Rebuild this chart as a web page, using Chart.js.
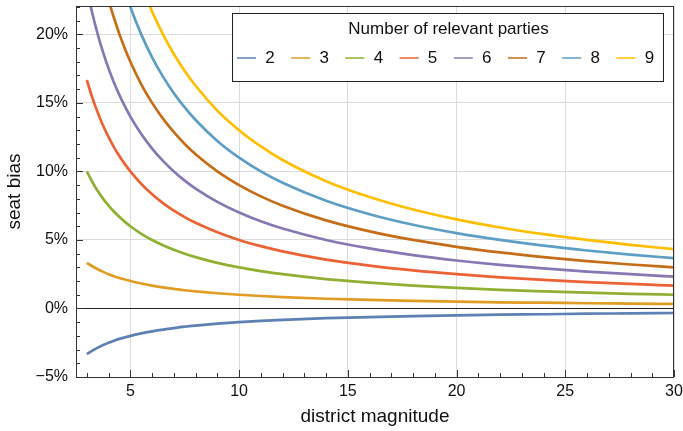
<!DOCTYPE html>
<html>
<head>
<meta charset="utf-8">
<script src="https://cdn.jsdelivr.net/npm/chart.js@4.4.1/dist/chart.umd.min.js"></script>
<style>
  html, body { margin: 0; padding: 0; background: #fff; }
  #wrap { width: 683px; height: 431px; }
</style>
</head>
<body>
<div id="wrap"><canvas id="grafico" width="683" height="431"></canvas></div>
<script>
// district magnitude
const magnitudes = [3, 3.25, 3.5, 3.75, 4, 4.25, 4.5, 4.75, 5, 5.5, 6, 6.5, 7, 7.5, 8, 9, 10, 11, 12, 14, 16, 18, 20, 22, 24, 26, 28, 30];

// seat bias (%) per number of relevant parties
const parties2 = [-3.33, -3.08, -2.86, -2.67, -2.5, -2.35, -2.22, -2.11, -2, -1.82, -1.67, -1.54, -1.43, -1.33, -1.25, -1.11, -1, -0.91, -0.83, -0.71, -0.63, -0.56, -0.5, -0.45, -0.42, -0.38, -0.36, -0.33];
const parties3 = [3.33, 3.08, 2.86, 2.67, 2.5, 2.35, 2.22, 2.11, 2, 1.82, 1.67, 1.54, 1.43, 1.33, 1.25, 1.11, 1, 0.91, 0.83, 0.71, 0.63, 0.56, 0.5, 0.45, 0.42, 0.38, 0.36, 0.33];
const parties4 = [10, 9.23, 8.57, 8, 7.5, 7.06, 6.67, 6.32, 6, 5.45, 5, 4.62, 4.29, 4, 3.75, 3.33, 3, 2.73, 2.5, 2.14, 1.88, 1.67, 1.5, 1.36, 1.25, 1.15, 1.07, 1];
const parties5 = [16.67, 15.38, 14.29, 13.33, 12.5, 11.76, 11.11, 10.53, 10, 9.09, 8.33, 7.69, 7.14, 6.67, 6.25, 5.56, 5, 4.55, 4.17, 3.57, 3.13, 2.78, 2.5, 2.27, 2.08, 1.92, 1.79, 1.67];
const parties6 = [23.33, 21.54, 20, 18.67, 17.5, 16.47, 15.56, 14.74, 14, 12.73, 11.67, 10.77, 10, 9.33, 8.75, 7.78, 7, 6.36, 5.83, 5, 4.38, 3.89, 3.5, 3.18, 2.92, 2.69, 2.5, 2.33];
const parties7 = [30, 27.69, 25.71, 24, 22.5, 21.18, 20, 18.95, 18, 16.36, 15, 13.85, 12.86, 12, 11.25, 10, 9, 8.18, 7.5, 6.43, 5.63, 5, 4.5, 4.09, 3.75, 3.46, 3.21, 3];
const parties8 = [36.67, 33.85, 31.43, 29.33, 27.5, 25.88, 24.44, 23.16, 22, 20, 18.33, 16.92, 15.71, 14.67, 13.75, 12.22, 11, 10, 9.17, 7.86, 6.88, 6.11, 5.5, 5, 4.58, 4.23, 3.93, 3.67];
const parties9 = [43.33, 40, 37.14, 34.67, 32.5, 30.59, 28.89, 27.37, 26, 23.64, 21.67, 20, 18.57, 17.33, 16.25, 14.44, 13, 11.82, 10.83, 9.29, 8.13, 7.22, 6.5, 5.91, 5.42, 5, 4.64, 4.33];

const seriesLabels = ['2', '3', '4', '5', '6', '7', '8', '9'];
const seriesValues = [parties2, parties3, parties4, parties5, parties6, parties7, parties8, parties9];
const colores = ['#5E81B5', '#E19C24', '#8FB032', '#EB6235', '#8778B3', '#C56E1A', '#5D9EC7', '#FFBF00'];

const xTicks = [5, 10, 15, 20, 25, 30];
const yTicks = [-5, 0, 5, 10, 15, 20];
const legendTitle = 'Number of relevant parties';
const xTitle = 'district magnitude';
const yTitle = 'seat bias';

const FUENTE = '"Liberation Sans", Arial, sans-serif';

const datasets = seriesValues.map((vals, i) => ({
    label: seriesLabels[i],
    data: magnitudes.map((m, j) => ({ x: m, y: vals[j] })),
    borderColor: colores[i],
    borderWidth: 2.7,
    pointRadius: 0,
    fill: false,
    cubicInterpolationMode: 'monotone',
}));

// marcas hacia dentro, marco, linea del cero, titulos y leyenda
const marcoPlugin = {
    id: 'marco',
    beforeDatasetsDraw(chart) {
        const { ctx, chartArea: a, scales } = chart;
        const y0 = scales.y.getPixelForValue(0);
        ctx.save();
        ctx.strokeStyle = '#222';
        ctx.lineWidth = 1;
        ctx.beginPath();
        ctx.moveTo(a.left, Math.round(y0) + 0.5);
        ctx.lineTo(a.right, Math.round(y0) + 0.5);
        ctx.stroke();
        ctx.restore();
    },
    afterDraw(chart) {
        const { ctx, chartArea: a, scales } = chart;
        ctx.save();
        ctx.strokeStyle = '#333';
        ctx.lineWidth = 1;
        ctx.strokeRect(a.left + 0.5, a.top + 0.5, a.right - a.left - 1, a.bottom - a.top);

        ctx.beginPath();
        for (let v = 3; v <= 30; v++) {
            const px = Math.round(scales.x.getPixelForValue(v)) + 0.5;
            const len = v % 5 === 0 ? 7 : 4;
            ctx.moveTo(px, a.bottom);
            ctx.lineTo(px, a.bottom - len);
        }
        for (let v = -5; v <= 22; v++) {
            const py = Math.round(scales.y.getPixelForValue(v)) + 0.5;
            const len = v % 5 === 0 ? 7 : 4;
            ctx.moveTo(a.left, py);
            ctx.lineTo(a.left + len, py);
        }
        ctx.stroke();

        // titulos de ejes
        ctx.fillStyle = '#111';
        ctx.font = `19px ${FUENTE}`;
        ctx.textAlign = 'center';
        ctx.textBaseline = 'middle';
        ctx.fillText(xTitle, (a.left + a.right) / 2, 417);
        ctx.save();
        ctx.translate(15, (a.top + a.bottom) / 2);
        ctx.rotate(-Math.PI / 2);
        ctx.fillText(yTitle, 0, 0);
        ctx.restore();

        // leyenda
        const lx = 232, ly = 13, lw = 431, lh = 68;
        ctx.fillStyle = '#fff';
        ctx.fillRect(lx, ly, lw, lh);
        ctx.strokeStyle = '#222';
        ctx.strokeRect(lx + 0.5, ly + 0.5, lw, lh);
        ctx.fillStyle = '#111';
        ctx.font = `17px ${FUENTE}`;
        ctx.fillText(legendTitle, lx + lw / 2 + 1, 29);
        chart.data.datasets.forEach((ds, i) => {
            const x = lx + 5 + i * 54.2;
            ctx.strokeStyle = ds.borderColor;
            ctx.lineWidth = 1.5;
            ctx.beginPath();
            ctx.moveTo(x, 58);
            ctx.lineTo(x + 19, 58);
            ctx.stroke();
            ctx.fillText(ds.label, x + 33, 58);
        });
        ctx.restore();
    },
};

new Chart(document.getElementById('grafico'), {
    type: 'line',
    data: { datasets },
    options: {
        responsive: false,
        animation: false,
        layout: { padding: { top: 6, right: 9, left: 0, bottom: 0 } },
        plugins: {
            legend: { display: false },
            tooltip: { enabled: false },
        },
        scales: {
            x: {
                type: 'linear',
                min: 2.5,
                max: 30,
                afterFit(scale) {
                    scale.height = 54;
                    scale.paddingLeft = 0;
                    scale.paddingRight = 0;
                },
                afterBuildTicks(scale) { scale.ticks = xTicks.map(v => ({ value: v })); },
                grid: { color: '#dcdcdc', drawTicks: false },
                border: { display: false },
                ticks: {
                    padding: 5,
                    color: '#111',
                    font: { family: FUENTE, size: 16 },
                },
            },
            y: {
                type: 'linear',
                min: -5,
                max: 22.07,
                afterFit(scale) {
                    scale.width = 76;
                    scale.paddingTop = 0;
                    scale.paddingBottom = 0;
                },
                afterBuildTicks(scale) { scale.ticks = yTicks.map(v => ({ value: v })); },
                grid: { color: '#dcdcdc', drawTicks: false },
                border: { display: false },
                ticks: {
                    padding: 8,
                    color: '#111',
                    font: { family: FUENTE, size: 16 },
                    callback: v => (v < 0 ? '\u2212' + Math.abs(v) : v) + '%',
                },
            },
        },
    },
    plugins: [marcoPlugin],
});
</script>
</body>
</html>
